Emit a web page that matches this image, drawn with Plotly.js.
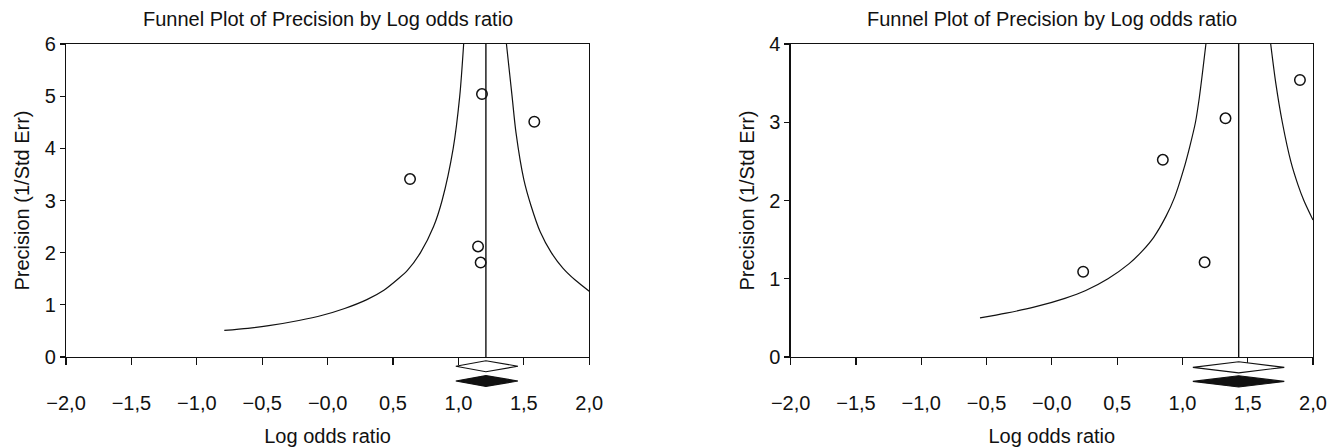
<!DOCTYPE html>
<html>
<head>
<meta charset="utf-8">
<script src="https://cdn.plot.ly/plotly-3.0.1.min.js"></script>
<style>html,body{margin:0;padding:0;background:#fff;}#chart{width:1338px;height:447px;}</style>
</head>
<body>
<div id="chart"></div>
<script>
// ---- Tick labels (shared) ----
const xTickVals = [-2, -1.5, -1, -0.5, 0, 0.5, 1, 1.5, 2];
const xTickText = ["\u22122,0", "\u22121,5", "\u22121,0", "\u22120,5", "\u22120,0", "0,5", "1,0", "1,5", "2,0"];
const leftYTicks = [0, 1, 2, 3, 4, 5, 6];
const rightYTicks = [0, 1, 2, 3, 4];

// ---- Left panel: studies (log odds ratio, precision) ----
const leftStudyX = [1.18, 1.58, 0.63, 1.15, 1.17];
const leftStudyY = [5.04, 4.51, 3.41, 2.12, 1.81];
// pooled estimate [lower, estimate, upper]
const leftPooledObserved = [0.98, 1.21, 1.455];
const leftPooledAdjusted = [0.98, 1.21, 1.455];
// funnel limits
const leftFunnelLoX = [-0.79, -0.61, -0.45, -0.22, -0.04, 0.13, 0.30, 0.43, 0.54, 0.61, 0.71, 0.81, 0.875, 0.96, 1.01, 1.04];
const leftFunnelLoY = [0.51, 0.55, 0.60, 0.70, 0.80, 0.93, 1.10, 1.28, 1.50, 1.66, 2.00, 2.50, 3.00, 4.00, 5.00, 6.00];
const leftFunnelHiX = [1.367, 1.41, 1.44, 1.50, 1.555, 1.625, 1.71, 1.80, 1.895, 2.0];
const leftFunnelHiY = [6.00, 5.00, 4.30, 3.40, 2.90, 2.40, 2.00, 1.70, 1.47, 1.26];
const leftYMax = 6;

// ---- Right panel ----
const rightStudyX = [0.24, 0.85, 1.17, 1.33, 1.90];
const rightStudyY = [1.09, 2.52, 1.21, 3.05, 3.54];
const rightPooledObserved = [1.08, 1.431, 1.78];
const rightPooledAdjusted = [1.08, 1.431, 1.78];
const rightFunnelLoX = [-0.55, -0.35, -0.13, 0.10, 0.26, 0.43, 0.59, 0.69, 0.78, 0.875, 0.94, 1.01, 1.055, 1.10, 1.13, 1.18];
const rightFunnelLoY = [0.50, 0.56, 0.64, 0.75, 0.85, 1.00, 1.19, 1.35, 1.53, 1.80, 2.04, 2.40, 2.68, 3.00, 3.32, 4.00];
const rightFunnelHiX = [1.676, 1.715, 1.765, 1.83, 1.885, 1.93, 2.0];
const rightFunnelHiY = [4.00, 3.50, 3.00, 2.50, 2.20, 2.00, 1.75];
const rightYMax = 4;

const titleText = "Funnel Plot of Precision by Log odds ratio";
const xTitle = "Log odds ratio";
const yTitle = "Precision (1/Std Err)";

const FONT = "Liberation Sans, Arial, Helvetica, sans-serif";
const INK = "#111";

function curve(x, y, xa, ya) {
  return {x: x, y: y, xaxis: xa, yaxis: ya, type: "scatter", mode: "lines",
    line: {color: INK, width: 1.2, shape: "spline", smoothing: 0.8}, hoverinfo: "skip", showlegend: false};
}
function studies(x, y, xa, ya) {
  return {x: x, y: y, xaxis: xa, yaxis: ya, type: "scatter", mode: "markers",
    marker: {symbol: "circle-open", size: 10.5, color: INK, line: {width: 1.5, color: INK}}, showlegend: false};
}
function meanLine(p, ymax, xa, ya) {
  return {x: [p[1], p[1]], y: [0, ymax], xaxis: xa, yaxis: ya, type: "scatter", mode: "lines",
    line: {color: INK, width: 1.4}, hoverinfo: "skip", showlegend: false};
}
function diamond(p, xref, yc, hh, filled) {
  const path = "M " + p[0] + "," + yc + " L " + p[1] + "," + (yc + hh) + " L " + p[2] + "," + yc + " L " + p[1] + "," + (yc - hh) + " Z";
  return {type: "path", xref: xref, yref: "paper", path: path,
    line: {color: INK, width: 1.1}, fillcolor: filled ? INK : "#ffffff", layer: "above"};
}

const data = [
  curve(leftFunnelLoX, leftFunnelLoY, "x", "y"),
  curve(leftFunnelHiX, leftFunnelHiY, "x", "y"),
  meanLine(leftPooledObserved, leftYMax, "x", "y"),
  studies(leftStudyX, leftStudyY, "x", "y"),
  curve(rightFunnelLoX, rightFunnelLoY, "x2", "y2"),
  curve(rightFunnelHiX, rightFunnelHiY, "x2", "y2"),
  meanLine(rightPooledObserved, rightYMax, "x2", "y2"),
  studies(rightStudyX, rightStudyY, "x2", "y2")
];

function xAxis(domain, anchor) {
  return {domain: domain, anchor: anchor, range: [-2, 2], tickmode: "array", tickvals: xTickVals, ticktext: xTickText,
    ticks: "outside", ticklen: 7, tickwidth: 1.2, tickcolor: INK, showline: true, mirror: true, linecolor: INK, linewidth: 1.2,
    showgrid: false, zeroline: false, ticklabelstandoff: 21, automargin: false,
    tickfont: {family: FONT, size: 20, color: INK},
    title: {text: xTitle, font: {family: FONT, size: 20, color: INK}, standoff: 15}};
}
function yAxis(domain, anchor, ymax, ticks) {
  return {domain: domain, anchor: anchor, range: [0, ymax], tickmode: "array", tickvals: ticks,
    ticks: "outside", ticklen: 5, tickwidth: 1.2, tickcolor: INK, showline: true, mirror: true, linecolor: INK, linewidth: 1.2,
    showgrid: false, zeroline: false, automargin: false,
    tickfont: {family: FONT, size: 20, color: INK},
    title: {text: yTitle, font: {family: FONT, size: 20, color: INK}, standoff: 9}};
}

const leftDomain = [0, 0.4196];
const rightDomain = [0.5811, 1.0];

const layout = {
  width: 1338, height: 447,
  margin: {l: 66, r: 25, t: 44, b: 90},
  paper_bgcolor: "#ffffff", plot_bgcolor: "#ffffff",
  font: {family: FONT, size: 20, color: INK},
  showlegend: false,
  xaxis: xAxis(leftDomain, "y"),
  yaxis: yAxis([0, 1], "x", leftYMax, leftYTicks),
  xaxis2: xAxis(rightDomain, "y2"),
  yaxis2: yAxis([0, 1], "x2", rightYMax, rightYTicks),
  annotations: [
    {text: titleText, xref: "paper", yref: "paper", x: (leftDomain[0] + leftDomain[1]) / 2, y: 1, yshift: 25,
      xanchor: "center", yanchor: "middle", showarrow: false, font: {family: FONT, size: 20, color: INK}},
    {text: titleText, xref: "paper", yref: "paper", x: (rightDomain[0] + rightDomain[1]) / 2, y: 1, yshift: 25,
      xanchor: "center", yanchor: "middle", showarrow: false, font: {family: FONT, size: 20, color: INK}}
  ],
  shapes: [
    diamond(leftPooledObserved, "x", -0.0294, 0.0176, false),
    diamond(leftPooledAdjusted, "x", -0.0767, 0.0172, true),
    diamond(rightPooledObserved, "x2", -0.0330, 0.0176, false),
    diamond(rightPooledAdjusted, "x2", -0.0780, 0.0180, true)
  ]
};

Plotly.newPlot("chart", data, layout, {displayModeBar: false, staticPlot: true});
</script>
</body>
</html>
